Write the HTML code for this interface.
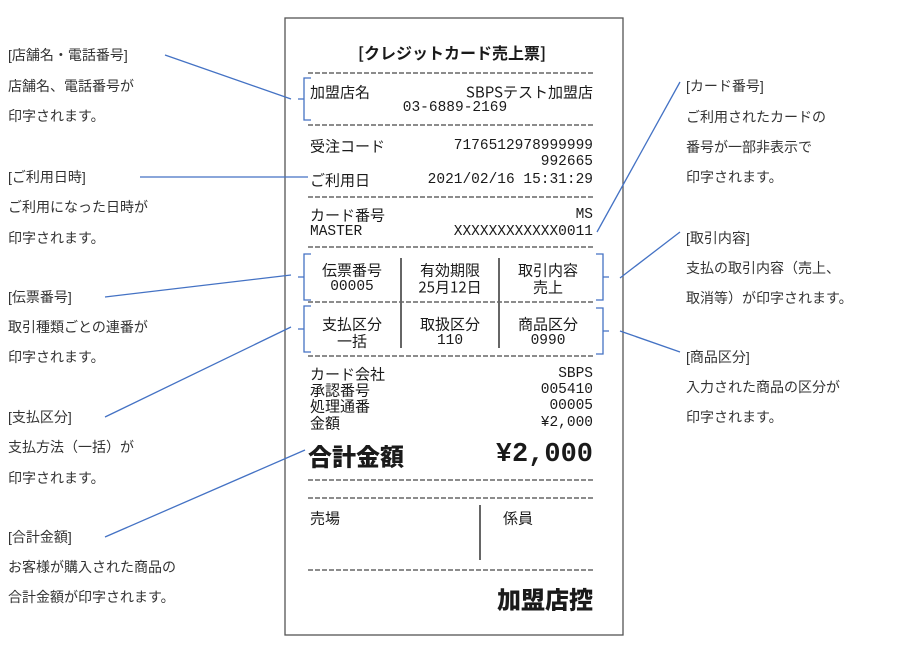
<!DOCTYPE html>
<html><head><meta charset="utf-8"><style>
html,body{margin:0;padding:0;background:#fff;}
svg{display:block;}
text{font-family:"Liberation Sans","Noto Sans CJK JP",sans-serif;fill:#222;dominant-baseline:central;}
.l{font-size:14px;fill:#333;}
.r{font-family:"Noto Sans CJK JP","Liberation Mono",monospace;font-size:15px;fill:#1a1a1a;}
.m{font-family:"Liberation Mono","Noto Sans CJK JP",monospace;font-size:14.5px;fill:#1a1a1a;}
.d{stroke:#666;stroke-width:1.5;stroke-dasharray:5,2;}
.b{stroke:#4472C4;stroke-width:1.3;fill:none;}
</style></head><body>
<svg width="916" height="645" viewBox="0 0 916 645" xmlns="http://www.w3.org/2000/svg">
<rect x="285" y="18" width="338" height="617" fill="#fff" stroke="#555" stroke-width="1.3"/>
<text class="r" x="452" y="52" text-anchor="middle" style="font-size:16px;font-weight:bold">[クレジットカード売上票]</text>
<line class="d" x1="308" y1="73" x2="593" y2="73"/>
<text class="r" x="310" y="92">加盟店名</text>
<text class="r" x="593" y="92" text-anchor="end">SBPSテスト加盟店</text>
<text class="m" x="455" y="108" text-anchor="middle">03-6889-2169</text>
<line class="d" x1="308" y1="125" x2="593" y2="125"/>
<text class="r" x="310" y="146">受注コード</text>
<text class="m" x="593" y="146" text-anchor="end">7176512978999999</text>
<text class="m" x="593" y="162" text-anchor="end">992665</text>
<text class="r" x="310" y="180">ご利用日</text>
<text class="m" x="593" y="180" text-anchor="end">2021/02/16 15:31:29</text>
<line class="d" x1="308" y1="197" x2="593" y2="197"/>
<text class="r" x="310" y="215">カード番号</text>
<text class="m" x="593" y="215" text-anchor="end">MS</text>
<text class="m" x="310" y="232">MASTER</text>
<text class="m" x="593" y="232" text-anchor="end">XXXXXXXXXXXX0011</text>
<line class="d" x1="308" y1="247" x2="593" y2="247"/>
<line x1="401" y1="258" x2="401" y2="348" stroke="#333" stroke-width="1.5"/>
<line x1="499" y1="258" x2="499" y2="348" stroke="#333" stroke-width="1.5"/>
<text class="r" x="352" y="270" text-anchor="middle">伝票番号</text>
<text class="m" x="352" y="287" text-anchor="middle">00005</text>
<text class="r" x="450" y="270" text-anchor="middle">有効期限</text>
<text class="r" x="450" y="287" text-anchor="middle">25月12日</text>
<text class="r" x="548" y="270" text-anchor="middle">取引内容</text>
<text class="r" x="548" y="287" text-anchor="middle">売上</text>
<line class="d" x1="308" y1="302" x2="593" y2="302"/>
<text class="r" x="352" y="324" text-anchor="middle">支払区分</text>
<text class="r" x="352" y="341" text-anchor="middle">一括</text>
<text class="r" x="450" y="324" text-anchor="middle">取扱区分</text>
<text class="m" x="450" y="341" text-anchor="middle">110</text>
<text class="r" x="548" y="324" text-anchor="middle">商品区分</text>
<text class="m" x="548" y="341" text-anchor="middle">0990</text>
<line class="d" x1="308" y1="356" x2="593" y2="356"/>
<text class="r" x="310" y="374">カード会社</text>
<text class="m" x="593" y="374" text-anchor="end">SBPS</text>
<text class="r" x="310" y="390">承認番号</text>
<text class="m" x="593" y="390" text-anchor="end">005410</text>
<text class="r" x="310" y="406">処理通番</text>
<text class="m" x="593" y="406" text-anchor="end">00005</text>
<text class="r" x="310" y="423">金額</text>
<text class="m" x="593" y="423" text-anchor="end">¥2,000</text>
<text class="r" x="308" y="455" style="font-size:24px;font-weight:900">合計金額</text>
<text class="m" x="593" y="455" text-anchor="end" style="font-size:27px;font-weight:bold">¥2,000</text>
<line class="d" x1="308" y1="480" x2="593" y2="480"/>
<line class="d" x1="308" y1="498" x2="593" y2="498"/>
<text class="r" x="310" y="518">売場</text>
<text class="r" x="503" y="518">係員</text>
<line x1="480" y1="505" x2="480" y2="560" stroke="#333" stroke-width="1.5"/>
<line class="d" x1="308" y1="570" x2="593" y2="570"/>
<text class="r" x="593" y="598" text-anchor="end" style="font-size:24px;font-weight:900">加盟店控</text>
<path class="b" d="M311,78 H304 V120 H311 M304,99 H298"/>
<path class="b" d="M311,254 H304 V300 H311 M304,277 H298"/>
<path class="b" d="M311,306 H304 V352 H311 M304,329 H298"/>
<path class="b" d="M596,254 H603 V300 H596 M603,277 H609"/>
<path class="b" d="M596,308 H603 V354 H596 M603,331 H609"/>
<line class="b" x1="165" y1="55" x2="291" y2="99"/>
<line class="b" x1="140" y1="177" x2="308" y2="177"/>
<line class="b" x1="105" y1="297" x2="291" y2="275"/>
<line class="b" x1="105" y1="417" x2="291" y2="327"/>
<line class="b" x1="105" y1="537" x2="305" y2="450"/>
<line class="b" x1="680" y1="82" x2="597" y2="232"/>
<line class="b" x1="680" y1="232" x2="620" y2="278"/>
<line class="b" x1="680" y1="352" x2="620" y2="331"/>
<text class="l" x="8" y="55">[店舗名・電話番号]</text>
<text class="l" x="8" y="86">店舗名、電話番号が</text>
<text class="l" x="8" y="116">印字されます。</text>
<text class="l" x="8" y="177">[ご利用日時]</text>
<text class="l" x="8" y="207">ご利用になった日時が</text>
<text class="l" x="8" y="238">印字されます。</text>
<text class="l" x="8" y="297">[伝票番号]</text>
<text class="l" x="8" y="327">取引種類ごとの連番が</text>
<text class="l" x="8" y="357">印字されます。</text>
<text class="l" x="8" y="417">[支払区分]</text>
<text class="l" x="8" y="447">支払方法（一括）が</text>
<text class="l" x="8" y="478">印字されます。</text>
<text class="l" x="8" y="537">[合計金額]</text>
<text class="l" x="8" y="567">お客様が購入された商品の</text>
<text class="l" x="8" y="597">合計金額が印字されます。</text>
<text class="l" x="686" y="86">[カード番号]</text>
<text class="l" x="686" y="117">ご利用されたカードの</text>
<text class="l" x="686" y="147">番号が一部非表示で</text>
<text class="l" x="686" y="177">印字されます。</text>
<text class="l" x="686" y="238">[取引内容]</text>
<text class="l" x="686" y="268">支払の取引内容（売上、</text>
<text class="l" x="686" y="298">取消等）が印字されます。</text>
<text class="l" x="686" y="357">[商品区分]</text>
<text class="l" x="686" y="387">入力された商品の区分が</text>
<text class="l" x="686" y="417">印字されます。</text>
</svg>
</body></html>
